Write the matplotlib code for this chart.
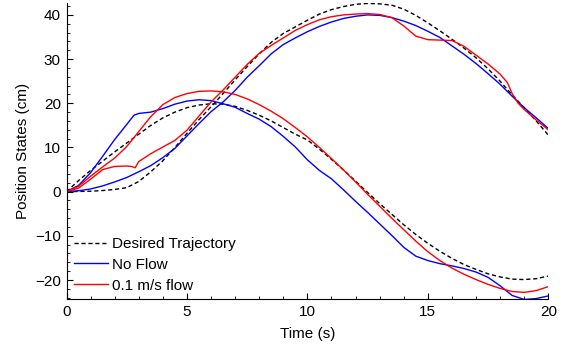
import numpy as np
import matplotlib.pyplot as plt
from matplotlib.ticker import MultipleLocator

plt.rcParams['font.family'] = ['Liberation Sans', 'DejaVu Sans']

# time samples (s)
t = [0, 0.5, 1, 1.5, 2, 2.5, 3, 3.5, 4, 4.5, 5, 5.5, 6, 6.5, 7, 7.5, 8, 8.5, 9, 9.5,
     10, 10.5, 11, 11.5, 12, 12.5, 13, 13.5, 14, 14.5, 15, 15.5, 16, 16.5, 17, 17.5,
     18, 18.5, 19, 19.5, 20]

# desired trajectories (cm)
desired_a = [0, 0.05, 0.1, 0.25, 0.5, 0.9, 2.3, 4.5, 7.0, 10.0, 13.2, 16.3, 19.2, 22.2,
             25.3, 28.3, 31.2, 33.8, 35.8, 37.3, 38.8, 40.2, 41.2, 41.9, 42.4, 42.6, 42.5,
             42.2, 41.3, 39.9, 38.2, 36.4, 34.5, 32.5, 30.3, 27.8, 25.0, 21.9, 19.0, 16.0,
             12.8]
desired_b = [0, 2.5, 4.8, 6.9, 9.0, 11.0, 13.0, 15.0, 16.7, 18.0, 19.0, 19.6, 19.9, 19.8,
             19.3, 18.4, 17.3, 16.0, 14.5, 13.0, 11.7, 9.6, 7.3, 4.9, 2.4, -0.2, -2.7,
             -5.1, -7.5, -9.7, -11.7, -13.5, -15.1, -16.5, -17.6, -18.6, -19.3, -19.8,
             -19.9, -19.7, -19.1]

# no flow
t_nf_a = t
nf_a = [0, 0.2, 0.6, 1.3, 2.2, 3.2, 4.5, 5.9, 7.7, 9.8, 12.6, 15.4, 18.1, 20.3, 22.9,
        25.9, 28.5, 31.2, 33.3, 34.8, 36.2, 37.4, 38.4, 39.2, 39.7, 40.0, 39.9, 39.4,
        38.6, 37.6, 36.3, 34.9, 33.0, 31.1, 29.0, 26.7, 24.3, 21.6, 19.0, 16.7, 14.3]
t_nf_b = [0, 0.5, 1, 1.5, 2, 2.5, 2.8, 3, 3.5, 4, 4.5, 5, 5.5, 6, 6.5, 7, 7.5, 8, 8.5, 9,
          9.5, 10, 10.5, 11, 11.5, 12, 12.5, 13, 13.5, 14, 14.5, 15, 15.5, 16, 16.5, 17,
          17.5, 18, 18.5, 19, 19.5, 20]
nf_b = [0, 1.4, 4.3, 8.0, 11.8, 15.2, 17.3, 17.7, 18.0, 18.8, 19.8, 20.5, 20.8, 20.6,
        19.9, 19.1, 17.7, 16.4, 14.7, 12.5, 10.1, 7.2, 4.8, 2.9, 0.4, -2.2, -4.7, -7.3,
        -9.9, -12.6, -14.6, -15.6, -16.3, -16.8, -17.4, -18.2, -19.4, -21.3, -23.5,
        -24.4, -24.2, -23.6]

# 0.1 m/s flow
t_fl_a = [0, 0.5, 1, 1.5, 2, 2.5, 2.7, 2.85, 3, 3.5, 4, 4.5, 5, 5.5, 6, 6.5, 7, 7.5, 8,
          8.5, 9, 9.5, 10, 10.5, 11, 11.5, 12, 12.5, 13, 13.5, 14, 14.5, 15, 15.5, 16,
          16.5, 17, 17.5, 18, 18.3, 18.5, 18.75, 19, 19.5, 20]
fl_a = [0, 0.8, 2.8, 5.0, 5.7, 5.8, 5.7, 5.4, 6.8, 8.6, 10.1, 11.6, 13.9, 17.1, 20.3,
        23.0, 25.9, 28.8, 31.3, 33.1, 34.8, 36.5, 37.8, 38.9, 39.6, 40.0, 40.2, 40.3,
        40.1, 39.4, 37.5, 35.2, 34.4, 34.3, 34.2, 32.9, 30.9, 28.9, 26.6, 24.7, 22.2,
        20.0, 18.6, 16.2, 14.0]
t_fl_b = t
fl_b = [0, 1.2, 3.5, 5.6, 7.6, 10.2, 13.6, 17.0, 19.7, 21.3, 22.2, 22.7, 22.8, 22.6,
        22.0, 21.0, 19.7, 18.2, 16.5, 14.5, 12.4, 10.0, 7.5, 4.9, 2.2, -0.6, -3.3, -6.0,
        -8.6, -11.2, -13.6, -15.6, -17.3, -18.7, -19.9, -21.0, -21.9, -22.6, -22.8,
        -22.4, -21.5]

fig = plt.figure(figsize=(5.66, 3.48), dpi=100)
ax = fig.add_axes([0.1175, 0.1408, 0.8512, 0.8506])

ax.plot(t, desired_a, color='black', lw=1.0, ls=(0, (3, 2)), label='Desired Trajectory')
ax.plot(t, desired_b, color='black', lw=1.0, ls=(0, (3, 2)))
ax.plot(t_nf_a, nf_a, color='blue', lw=1.0, label='No Flow')
ax.plot(t_nf_b, nf_b, color='blue', lw=1.0)
ax.plot(t_fl_a, fl_a, color='red', lw=1.0, label='0.1 m/s flow')
ax.plot(t_fl_b, fl_b, color='red', lw=1.0)

ax.set_xlim(0, 20)
ax.set_ylim(-24.3, 42.7)
ax.spines['top'].set_visible(False)
ax.spines['right'].set_visible(False)
ax.xaxis.set_major_locator(MultipleLocator(5))
ax.xaxis.set_minor_locator(MultipleLocator(1))
ax.yaxis.set_major_locator(MultipleLocator(10))
ax.yaxis.set_minor_locator(MultipleLocator(2))
ax.tick_params(which='major', direction='in', length=4, width=0.8, labelsize=11, pad=4)
ax.tick_params(which='minor', direction='in', length=2, width=0.6)

ax.set_xlabel('Time (s)', fontsize=11, labelpad=6)
ax.set_ylabel('Position States (cm)', fontsize=11, labelpad=4)

ax.legend(loc='lower left', bbox_to_anchor=(-0.005, -0.012), frameon=False, fontsize=11,
          handlelength=2.2, handletextpad=0.3, labelspacing=0.45, borderaxespad=0.25)

fig.savefig('out.png', dpi=100)
